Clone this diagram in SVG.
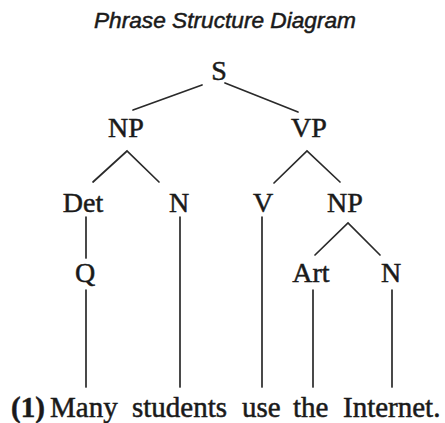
<svg xmlns="http://www.w3.org/2000/svg" width="445" height="423" viewBox="0 0 445 423">
<style>
.t{font-family:"Liberation Serif","Times New Roman",serif;font-size:28px;fill:#1a1a1a;stroke:#1a1a1a;stroke-width:0.5;text-anchor:middle}
.s{font-family:"Liberation Serif","Times New Roman",serif;font-size:29px;fill:#1a1a1a;stroke:#1a1a1a;stroke-width:0.5}
.h{font-family:"Liberation Sans",Arial,sans-serif;font-size:22px;font-style:italic;fill:#1a1a1a;stroke:#1a1a1a;stroke-width:0.5;text-anchor:middle}
.e{stroke:#2a2a2a;stroke-width:1.7;fill:none;stroke-linecap:round}
</style>
<rect width="445" height="423" fill="#fff"/>
<text class="h" x="225" y="28" textLength="262" lengthAdjust="spacingAndGlyphs">Phrase Structure Diagram</text>
<g id="connectors">
<line class="e" x1="202" y1="85" x2="133" y2="110"/>
<line class="e" x1="225" y1="83" x2="298" y2="112"/>
<polyline class="e" points="93,182 127,151 159,182"/>
<polyline class="e" points="274,183 307,151 340,182"/>
<polyline class="e" points="315,255 348,223 380,255"/>
<line class="e" x1="86" y1="217" x2="86" y2="258"/>
<line class="e" x1="180" y1="217" x2="180" y2="387"/>
<line class="e" x1="262" y1="217" x2="262" y2="387"/>
<line class="e" x1="86" y1="290" x2="86" y2="387"/>
<line class="e" x1="313" y1="290" x2="313" y2="387"/>
<line class="e" x1="392" y1="290" x2="392" y2="387"/>
</g>
<g id="S"><text class="t" x="219" y="80">S</text></g>
<g id="NP1"><text class="t" x="126" y="137">NP</text></g>
<g id="VP"><text class="t" x="309" y="137">VP</text></g>
<g id="Det"><text class="t" x="83" y="212">Det</text></g>
<g id="N1"><text class="t" x="179" y="212">N</text></g>
<g id="V"><text class="t" x="263" y="212">V</text></g>
<g id="NP2"><text class="t" x="345" y="212">NP</text></g>
<g id="Q"><text class="t" x="85" y="282">Q</text></g>
<g id="Art"><text class="t" x="311" y="282">Art</text></g>
<g id="N2"><text class="t" x="391" y="282">N</text></g>
<g id="sentence"><text class="s" y="417"><tspan x="11" font-weight="bold">(1)</tspan><tspan x="50">Many</tspan><tspan x="132">students</tspan><tspan x="242">use</tspan><tspan x="293">the</tspan><tspan x="343">Internet.</tspan></text></g>
</svg>
